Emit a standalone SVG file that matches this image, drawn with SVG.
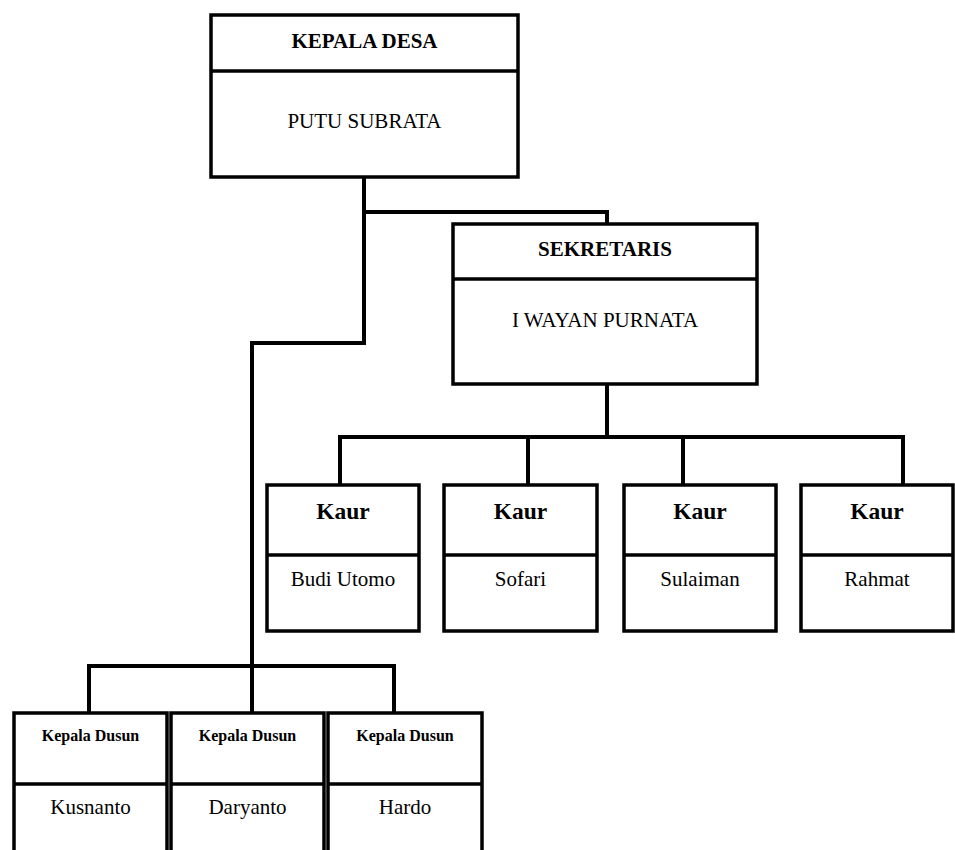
<svg xmlns="http://www.w3.org/2000/svg" width="955" height="850" viewBox="0 0 955 850">
<style>
.box{fill:#fff;stroke:#000;stroke-width:3.5}
.div{stroke:#000;stroke-width:3.5}
.con{fill:none;stroke:#000;stroke-width:4;stroke-linecap:square;stroke-linejoin:miter}
text{font-family:"Liberation Serif","Times New Roman",serif;fill:#000;text-anchor:middle}
.b{font-weight:bold}
.t21{font-size:21px}
.t23{font-size:23.5px}
.t16{font-size:16px}
</style>
<rect width="955" height="850" fill="#fff"/>
<g id="connectors">
<polyline class="con" points="364,177 364,343 252,343 252,713"/>
<polyline class="con" points="364,212 607,212 607,224"/>
<polyline class="con" points="607,384 607,437"/>
<polyline class="con" points="340,485 340,437 903,437 903,485"/>
<line class="con" x1="528" y1="437" x2="528" y2="485"/>
<line class="con" x1="683" y1="437" x2="683" y2="485"/>
<polyline class="con" points="89,713 89,666 394,666 394,713"/>
</g>
<g id="kepala-desa">
<rect class="box" x="211" y="15" width="307" height="162"/>
<line class="div" x1="211" y1="71" x2="518" y2="71"/>
<text class="b t21" x="364.5" y="48">KEPALA DESA</text>
<text class="t21" x="364.5" y="128">PUTU SUBRATA</text>
</g>
<g id="sekretaris">
<rect class="box" x="453" y="224" width="304" height="160"/>
<line class="div" x1="453" y1="279" x2="757" y2="279"/>
<text class="b t21" x="605" y="256">SEKRETARIS</text>
<text class="t21" x="605" y="327">I WAYAN PURNATA</text>
</g>
<g id="kaur-1">
<rect class="box" x="267" y="485" width="152" height="146"/>
<line class="div" x1="267" y1="555" x2="419" y2="555"/>
<text class="b t23" x="343" y="519">Kaur</text>
<text class="t21" x="343" y="586">Budi Utomo</text>
</g>
<g id="kaur-2">
<rect class="box" x="444" y="485" width="153" height="146"/>
<line class="div" x1="444" y1="555" x2="597" y2="555"/>
<text class="b t23" x="520.5" y="519">Kaur</text>
<text class="t21" x="520.5" y="586">Sofari</text>
</g>
<g id="kaur-3">
<rect class="box" x="624" y="485" width="152" height="146"/>
<line class="div" x1="624" y1="555" x2="776" y2="555"/>
<text class="b t23" x="700" y="519">Kaur</text>
<text class="t21" x="700" y="586">Sulaiman</text>
</g>
<g id="kaur-4">
<rect class="box" x="801" y="485" width="152" height="146"/>
<line class="div" x1="801" y1="555" x2="953" y2="555"/>
<text class="b t23" x="877" y="519">Kaur</text>
<text class="t21" x="877" y="586">Rahmat</text>
</g>
<g id="dusun-1">
<rect class="box" x="14" y="713" width="153" height="160"/>
<line class="div" x1="14" y1="784" x2="167" y2="784"/>
<text class="b t16" x="90.5" y="741">Kepala Dusun</text>
<text class="t21" x="90.5" y="814">Kusnanto</text>
</g>
<g id="dusun-2">
<rect class="box" x="171" y="713" width="153" height="160"/>
<line class="div" x1="171" y1="784" x2="324" y2="784"/>
<text class="b t16" x="247.5" y="741">Kepala Dusun</text>
<text class="t21" x="247.5" y="814">Daryanto</text>
</g>
<g id="dusun-3">
<rect class="box" x="328" y="713" width="154" height="160"/>
<line class="div" x1="328" y1="784" x2="482" y2="784"/>
<text class="b t16" x="405" y="741">Kepala Dusun</text>
<text class="t21" x="405" y="814">Hardo</text>
</g>
</svg>
